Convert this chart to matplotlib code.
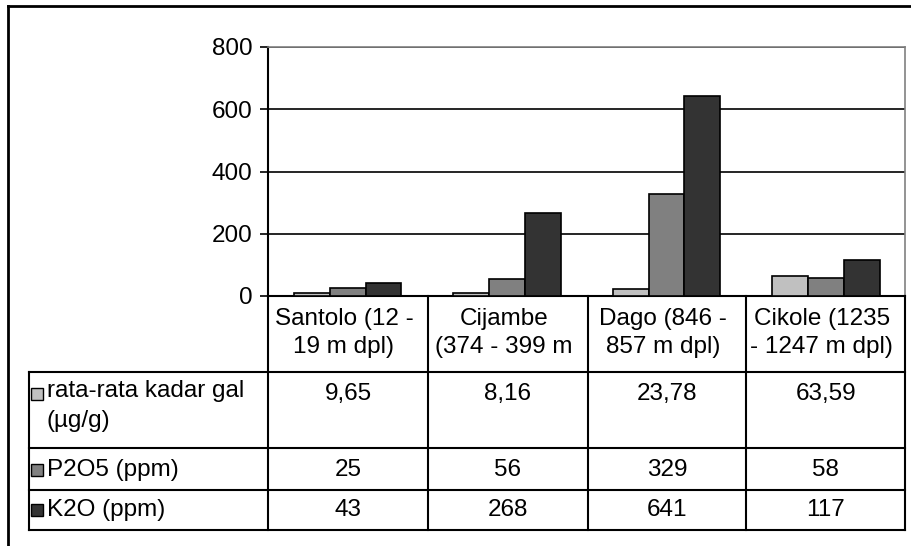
import numpy as np
import matplotlib.pyplot as plt

plt.rcParams['font.family'] = ['Liberation Sans', 'DejaVu Sans']

# data
lokasi = ["Santolo (12 -\n19 m dpl)", "Cijambe\n(374 - 399 m", "Dago (846 -\n857 m dpl)", "Cikole (1235\n- 1247 m dpl)"]
seri = ["rata-rata kadar gal\n(µg/g)", "P2O5 (ppm)", "K2O (ppm)"]
gal = [9.65, 8.16, 23.78, 63.59]
p2o5 = [25, 56, 329, 58]
k2o = [43, 268, 641, 117]
gal_label = ["9,65", "8,16", "23,78", "63,59"]
warna = ["#C0C0C0", "#808080", "#333333"]

W, H = 912, 546
fs = 17.5
fig = plt.figure(figsize=(W / 100, H / 100), dpi=100)

# kotak chart (koordinat piksel)
x0, x1 = 268, 905.5
y_top, y_nol = 47, 296
ax = fig.add_axes([x0 / W, 1 - y_nol / H, (x1 - x0) / W, (y_nol - y_top) / H])

x = np.arange(len(lokasi))
lebar = 0.225
for i, nilai in enumerate([gal, p2o5, k2o]):
    ax.bar(x + (i - 1) * lebar, nilai, lebar, color=warna[i], edgecolor="black", linewidth=1.2, zorder=3)

ax.set_xlim(-0.5, 3.5)
ax.set_ylim(0, 800)
ax.set_yticks(range(0, 801, 200))
ax.set_xticks([])
ax.tick_params(axis="y", labelsize=fs, length=6, width=1.2, pad=5)
ax.yaxis.grid(True, color="black", linewidth=1.2)
ax.set_axisbelow(True)
for s in ["left", "bottom"]:
    ax.spines[s].set_linewidth(1.5)
for s in ["top", "right"]:
    ax.spines[s].set_color("#808080")
    ax.spines[s].set_linewidth(1.2)

# tabel data di bawah chart
tb = fig.add_axes([0, 0, 1, 1], facecolor="none")
tb.set_xlim(0, W)
tb.set_ylim(H, 0)
tb.axis("off")

kolom = [268, 428, 588, 746, 905.5]
baris = [296, 372, 448, 490, 530]
kiri = 29
lw = 1.5

for xc in kolom:
    tb.plot([xc, xc], [baris[0], baris[-1]], color="black", lw=lw)
tb.plot([kiri, kiri], [baris[1], baris[-1]], color="black", lw=lw)
for yr in baris[1:]:
    tb.plot([kiri, kolom[-1]], [yr, yr], color="black", lw=lw)

for j, nama in enumerate(lokasi):
    xm = (kolom[j] + kolom[j + 1]) / 2 - 4
    tb.text(xm, 333, nama, ha="center", va="center", fontsize=fs, linespacing=1.33)

teks_nilai = [gal_label, [str(v) for v in p2o5], [str(v) for v in k2o]]
y_teks = [394, 470, 510]
for i, nama in enumerate(seri):
    yk = y_teks[i]
    tb.add_patch(plt.Rectangle((31, yk - 6), 12, 12, facecolor=warna[i], edgecolor="black", lw=1))
    if i == 0:
        tb.text(47, yk - 14, nama, ha="left", va="top", fontsize=fs, linespacing=1.45)
    else:
        tb.text(47, yk, nama, ha="left", va="center", fontsize=fs)
    for j in range(len(lokasi)):
        xm = (kolom[j] + kolom[j + 1]) / 2
        tb.text(xm, yk, teks_nilai[i][j], ha="center", va="center", fontsize=fs)

# bingkai luar
tb.plot([8, W], [6, 6], color="black", lw=2)
tb.plot([8, 8], [6, H], color="black", lw=2)

fig.savefig("out.png", dpi=100)
